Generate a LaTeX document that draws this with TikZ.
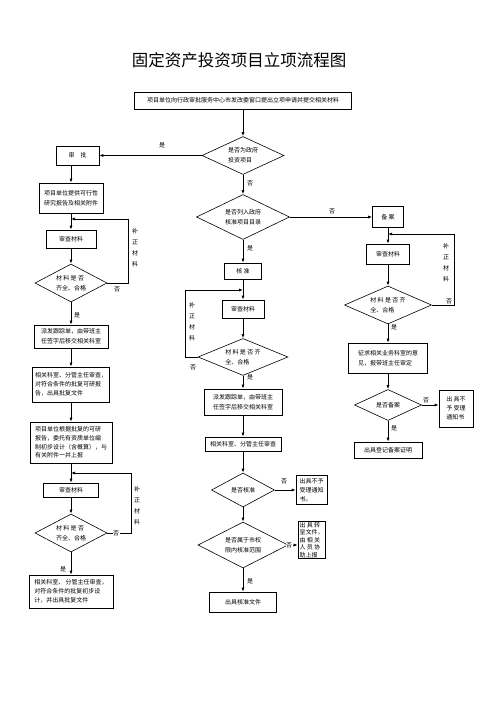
\documentclass[tikz,border=0pt]{standalone}
\usepackage{fontspec}
\newfontfamily\cjk{Noto Sans CJK SC}
\usetikzlibrary{shapes.geometric,arrows.meta,shadows}

\tikzset{
  box/.style={draw, rectangle, line width=0.6pt, inner sep=1pt, align=left, fill=white,
    drop shadow={shadow xshift=0.9pt, shadow yshift=-0.9pt, fill=black, opacity=0.85}},
  dia/.style={draw, diamond, line width=0.6pt, inner sep=0pt, align=left, shape aspect=2},
  side/.style={inner sep=0pt, align=center, font=\cjk\fontsize{6}{11}\selectfont},
}

\begin{document}
\begin{tikzpicture}[x=1pt, y=-1pt, >={Latex[length=4pt,width=3pt]},
  every node/.style={font=\cjk\fontsize{6}{10}\selectfont}]
\useasboundingbox[fill=white] (0,0) rectangle (500,708);
\node[font=\cjk\fontsize{16.5}{18}\selectfont] (title) at (239,60) {固定资产投资项目立项流程图};
\node[box, minimum width=217, minimum height=17] (apply) at (243,100.5) {项目单位向行政审批服务中心市发改委窗口提出立项申请并提交相关材料};

% left column
\node[box, minimum width=43, minimum height=19, align=center] (approve) at (77.5,155.5) {审\quad 批};
\node[box, minimum width=64, minimum height=30] (study) at (71,198) {项目单位提供可行性\\研究报告及相关附件};
\node[box, minimum width=50, minimum height=18, align=center] (checkA) at (71,239) {审查材料};
\node[dia, minimum width=72, minimum height=38] (okA) at (71,283) {材\ 料\ 是\ 否\\齐全、合格};
\node[box, minimum width=74, minimum height=23] (sendA) at (71,336.5) {派发跟踪单，由带班主\\任签字后移交相关科室};
\node[box, minimum width=77, minimum height=35, font=\cjk\fontsize{6}{9}\selectfont] (replyA) at (71,384.5) {相关科室、分管主任审查，\\对符合条件的批复可研报\\告，出具批复文件};
\node[box, minimum width=82, minimum height=41, font=\cjk\fontsize{6}{8.8}\selectfont] (design) at (71,442.5) {项目单位根据批复的可研\\报告，委托有资质单位编\\制初步设计（含概算），与\\有关附件一并上报};
\node[box, minimum width=55, minimum height=14, align=center] (checkB) at (71,490) {审查材料};
\node[dia, minimum width=72, minimum height=38] (okB) at (71,533) {材\ 料\ 是\ 否\\齐全、合格};
\node[box, minimum width=84, minimum height=33, font=\cjk\fontsize{6}{9}\selectfont] (replyB) at (71,591.5) {相关科室、 分管主任审查，\\对符合条件的批复初步设\\计，并出具批复文件};

% middle column
\node[dia, minimum width=82, minimum height=38] (gov) at (243,155.5) {是否为政府\\投资项目};
\node[dia, minimum width=93, minimum height=45] (list) at (243,217) {是否列入政府\\核准项目目录};
\node[box, minimum width=37, minimum height=16, align=center] (verify) at (243,271) {核\ 准};
\node[box, minimum width=42, minimum height=18, align=center] (checkC) at (243,309) {审查材料};
\node[dia, minimum width=90, minimum height=37] (okC) at (243,357) {材\ 料\ 是\ 否\ 齐\\全、合格};
\node[box, minimum width=78, minimum height=26] (sendC) at (243,402) {派发跟踪单，由带班主\\任签字后移交相关科室};
\node[box, minimum width=76, minimum height=14, align=center] (office) at (243,444) {相关科室、分管主任审查};
\node[dia, minimum width=63, minimum height=34] (pass) at (243,490) {是否核准};
\node[box, minimum width=31, minimum height=29, font=\cjk\fontsize{6}{9}\selectfont] (refuseC) at (311.5,490) {出具不予\\受理通知\\书。};
\node[dia, minimum width=90, minimum height=46] (scope) at (243,545) {是否属于市权\\限内核准范围};
\node[box, minimum width=27, minimum height=36, font=\cjk\fontsize{6}{7.4}\selectfont] (forward) at (311.5,540) {出\ 具\ 转\\呈文件，\\由\ 相\ 关\\人\ 员\ 协\\助上报};
\node[box, minimum width=67, minimum height=20, align=center] (permit) at (243,602) {出具核准文件};

% right column
\node[box, minimum width=31, minimum height=21, align=center] (record) at (388,217) {备\ 案};
\node[box, minimum width=43, minimum height=20, align=center] (checkD) at (388,254) {审查材料};
\node[dia, minimum width=87, minimum height=38] (okD) at (388,305) {材\ 料\ 是\ 否\ 齐\\全、合格};
\node[box, minimum width=79, minimum height=30] (advice) at (388,358) {征求相关业务科室的意\\见，报带班主任审定};
\node[dia, minimum width=67, minimum height=31] (filed) at (388,405) {是否备案};
\node[box, minimum width=34, minimum height=37, font=\cjk\fontsize{6}{9}\selectfont] (refuseD) at (456,408.5) {出\ 具不\\予\ 受理\\通知书};
\node[box, minimum width=68, minimum height=16, align=center] (proof) at (388,450) {出具登记备案证明};

\coordinate (joinA) at (71,219);
\coordinate (turnA) at (128,219);
\coordinate (joinB) at (71,473);
\coordinate (turnB) at (131,473);
\coordinate (joinC) at (243,290);
\coordinate (turnC) at (185,290);
\coordinate (joinD) at (388,234);
\coordinate (turnD) at (454,234);

\draw[->, thick] (apply) -- (gov);
\draw[->, thick] (gov) -- (approve);
\draw[->, thick] (gov) -- (list);
\draw[->, thick] (list) -- (record);
\draw[->, thick] (list) -- (verify);

\draw[->, thick] (approve.south -| study) -- (study);
\draw[->, thick] (study) -- (checkA);
\draw[->, thick] (checkA) -- (okA);
\draw[->, thick] (okA.east) -| (turnA) -- (joinA);
\draw[->, thick] (okA) -- (sendA);
\draw[->, thick] (sendA) -- (replyA);
\draw[->, thick] (replyA) -- (design);
\draw[->, thick] (design) -- (checkB);
\draw[->, thick] (checkB) -- (okB);
\draw[->, thick] (okB.east) -| (turnB) -- (joinB);
\draw[->, thick] (okB) -- (replyB);

\draw[->, thick] (verify) -- (checkC);
\draw[->, thick] (checkC) -- (okC);
\draw[->, thick] (okC.west) -| (turnC) -- (joinC);
\draw[->, thick] (okC) -- (sendC);
\draw[->, thick] (sendC) -- (office);
\draw[->, thick] (office) -- (pass);
\draw[->, thick] (pass) -- (refuseC);
\draw[->, thick] (pass) -- (scope);
\draw[->, thick] (scope.east) -- (scope.east -| forward.west);
\draw[->, thick] (scope) -- (permit);

\draw[->, thick] (record) -- (checkD);
\draw[->, thick] (checkD) -- (okD);
\draw[->, thick] (okD.east) -| (turnD) -- (joinD);
\draw[->, thick] (okD) -- (advice);
\draw[->, thick] (advice) -- (filed);
\draw[->, thick] (filed.east) -- (filed.east -| refuseD.west);
\draw[->, thick] (filed) -- (proof);

% labels
\node (yesGov) at (162,145) {是};
\node (noGov) at (250,183) {否};
\node (noList) at (332,211) {否};
\node (yesList) at (250,248) {是};
\node[side] (fixA) at (135,248) {补\\正\\材\\料};
\node (noA) at (117,289) {否};
\node (yesA) at (77,315) {是};
\node[side] (fixB) at (137,506) {补\\正\\材\\料};
\node[fill=white, inner sep=0.5pt] (noB) at (116,533) {否};
\node (yesB) at (63,569) {是};
\node[side] (fixC) at (192,322) {补\\正\\材\\料};
\node (noC) at (193,367) {否};
\node (yesC) at (250,377) {是};
\node (noPass) at (284,481) {否};
\node[fill=white, inner sep=0.5pt] (noScope) at (289,545) {否};
\node (yesScope) at (250,581) {是};
\node[side] (fixD) at (446,263) {补\\正\\材\\料};
\node (noD) at (449,301) {否};
\node (yesD) at (394,327) {是};
\node (noFiled) at (426,400) {否};
\node (yesFiled) at (394,428) {是};
\end{tikzpicture}
\end{document}
